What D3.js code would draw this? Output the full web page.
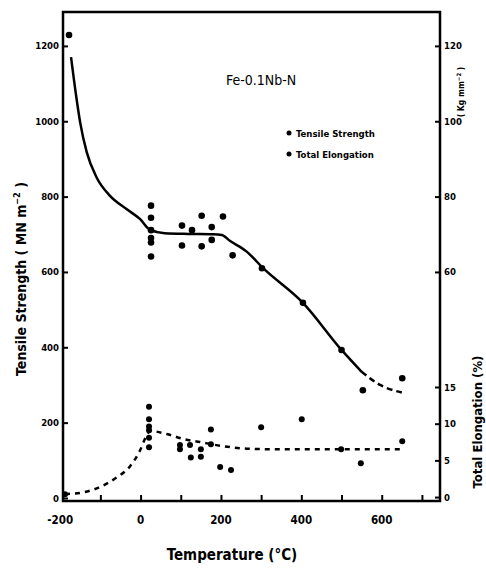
<!DOCTYPE html>
<html><head><meta charset="utf-8">
<script src="https://cdn.jsdelivr.net/npm/d3@7"></script>
<style>body{margin:0;background:#fff} svg{display:block}</style>
</head><body><svg id="c" width="486" height="568"></svg>
<script>
// ---- data ----
const tsTemp = [-178, 26, 26, 26, 26, 26, 26, 103, 103, 128, 152, 152, 177, 177, 205, 229, 302, 404, 500, 553, 651];
const tsVal  = [1229, 776, 744, 711, 690, 678, 641, 723, 670, 711, 749, 668, 719, 685, 747, 644, 610, 518, 393, 286, 318];
const elTemp = [-188, 21, 21, 21, 21, 21, 21, 98, 98, 123, 125, 150, 150, 175, 175, 198, 225, 300, 401, 499, 548, 651];
const elVal  = [0.4, 12.3, 10.6, 9.6, 9.1, 8.1, 6.8, 7.1, 6.5, 7.1, 5.4, 6.5, 5.5, 9.2, 7.2, 4.1, 3.7, 9.5, 10.6, 6.5, 4.6, 7.6];
const tsFitTemp = [-173, -160, -150, -134, -109, -76, -35, -1, 23, 60, 120, 180, 202, 223, 264, 305, 404, 500, 550];
const tsFitVal  = [1170, 1065, 995, 918, 850, 802, 767, 740, 712, 703, 701, 700, 698, 682, 654, 610, 518, 393, 335];
const tsDashTemp = [550, 596, 650];
const tsDashVal  = [335, 300, 280];
const elFitTemp = [-188, -142, -100, -59, -26, -1, 16, 24, 65, 107, 148, 198, 264, 350, 450, 550, 651];
const elFitVal  = [0.4, 0.65, 1.4, 2.7, 4.2, 6.4, 8.5, 9.0, 8.6, 7.9, 7.5, 7.0, 6.6, 6.5, 6.5, 6.5, 6.5];
const xTicks = [-100, 0, 100, 200, 300, 400, 500, 600, 700];
const xLabels = [-200, 0, 200, 400, 600];
const yTicks = [0, 200, 400, 600, 800, 1000, 1200];
const kgTicks = [60, 80, 100, 120];
const elTicks = [0, 5, 10, 15];

// ---- scales ----
const L = 63, R = 440, T = 12, B = 501;
const x = d3.scaleLinear().domain([-193, 745]).range([L, R]);
const y = d3.scaleLinear().domain([-8, 1290]).range([B, T]);
const yK = d3.scaleLinear().domain([-0.8, 129]).range([B, T]);
const yE = d3.scaleLinear().domain([-0.4, 15]).range([500, 387]);

const svg = d3.select("#c");
const font = "'DejaVu Sans Condensed','DejaVu Sans',sans-serif";

// frame
svg.append("rect").attr("x", L).attr("y", T).attr("width", R - L).attr("height", B - T)
  .attr("fill", "none").attr("stroke", "#000").attr("stroke-width", 2.5);

// x axis
const xa = svg.append("g").attr("transform", `translate(0,${B})`)
  .call(d3.axisBottom(x).tickValues(xTicks).tickSizeInner(-6).tickSizeOuter(0).tickFormat(""));
xa.select(".domain").remove();
xa.selectAll("line").attr("stroke-width", 2);
svg.append("g").selectAll("text").data(xLabels).join("text")
  .attr("x", d => x(d)).attr("y", 524).attr("text-anchor", "middle")
  .attr("font-family", font).attr("font-weight", "bold").attr("font-size", 11.5)
  .text(d => d < 0 ? "-" + Math.abs(d) : d);

// left axis
const ya = svg.append("g").attr("transform", `translate(${L},0)`)
  .call(d3.axisLeft(y).tickValues(yTicks).tickFormat(d3.format("d")).tickSizeInner(-5).tickSizeOuter(0).tickPadding(4));
ya.select(".domain").remove();
ya.selectAll("line").attr("stroke-width", 2);
ya.selectAll("text").attr("font-family", font).attr("font-weight", "bold").attr("font-size", 9.5);

// right axes
const ka = svg.append("g").attr("transform", `translate(${R},0)`)
  .call(d3.axisRight(yK).tickValues(kgTicks).tickFormat(d3.format("d")).tickSizeInner(-5).tickSizeOuter(0).tickPadding(4));
ka.select(".domain").remove();
ka.selectAll("line").attr("stroke-width", 2);
ka.selectAll("text").attr("font-family", font).attr("font-weight", "bold").attr("font-size", 9.5);
const ea = svg.append("g").attr("transform", `translate(${R},0)`)
  .call(d3.axisRight(yE).tickValues(elTicks).tickFormat(d3.format("d")).tickSizeInner(-5).tickSizeOuter(0).tickPadding(4));
ea.select(".domain").remove();
ea.selectAll("line").attr("stroke-width", 2);
ea.selectAll("text").attr("font-family", font).attr("font-weight", "bold").attr("font-size", 9.5);

// fit curves
const lineTS = d3.line().x(d => x(d[0])).y(d => y(d[1])).curve(d3.curveMonotoneX);
const lineEL = d3.line().x(d => x(d[0])).y(d => yE(d[1])).curve(d3.curveMonotoneX);
svg.append("path").datum(d3.zip(tsFitTemp, tsFitVal)).attr("d", lineTS)
  .attr("fill", "none").attr("stroke", "#000").attr("stroke-width", 2.5);
svg.append("path").datum(d3.zip(tsDashTemp, tsDashVal)).attr("d", lineTS)
  .attr("fill", "none").attr("stroke", "#000").attr("stroke-width", 2.5).attr("stroke-dasharray", "6,4");
svg.append("path").datum(d3.zip(elFitTemp, elFitVal)).attr("d", lineEL)
  .attr("fill", "none").attr("stroke", "#000").attr("stroke-width", 2.5).attr("stroke-dasharray", "5,5");

// points
svg.append("g").selectAll("circle").data(d3.zip(tsTemp, tsVal)).join("circle")
  .attr("cx", d => x(d[0])).attr("cy", d => y(d[1])).attr("r", 3.3).attr("fill", "#000");
svg.append("g").selectAll("circle").data(d3.zip(elTemp, elVal)).join("circle")
  .attr("cx", d => x(d[0])).attr("cy", d => yE(d[1])).attr("r", 3).attr("fill", "#000");

// title
svg.append("text").attr("x", 261).attr("y", 85).attr("text-anchor", "middle")
  .attr("font-family", font).attr("font-size", 14).text("Fe-0.1Nb-N");

// legend
const legend = [["Tensile Strength", 133], ["Total Elongation", 154]];
legend.forEach(([t, ly]) => {
  svg.append("circle").attr("cx", 289).attr("cy", ly).attr("r", 2.5).attr("fill", "#000");
  svg.append("text").attr("x", 296).attr("y", ly + 3.5).attr("font-family", font)
    .attr("font-weight", "bold").attr("font-size", 9.5).text(t);
});

// axis titles
svg.append("text").attr("x", 232).attr("y", 560).attr("text-anchor", "middle")
  .attr("font-family", font).attr("font-weight", "bold").attr("font-size", 15).text("Temperature (°C)");
const lt = svg.append("text").attr("transform", "translate(26,279) rotate(-90)").attr("text-anchor", "middle")
  .attr("font-family", font).attr("font-weight", "bold").attr("font-size", 14);
lt.append("tspan").text("Tensile Strength ( MN m");
lt.append("tspan").attr("font-size", 9).attr("dy", -6).text("−2");
lt.append("tspan").attr("dy", 6).text(" )");
const rt = svg.append("text").attr("transform", "translate(464,92) rotate(-90)").attr("text-anchor", "middle")
  .attr("font-family", font).attr("font-weight", "bold").attr("font-size", 8.5);
rt.append("tspan").text("( Kg mm");
rt.append("tspan").attr("font-size", 6).attr("dy", -3).text("−2");
rt.append("tspan").attr("dy", 3).text(" )");
svg.append("text").attr("transform", "translate(482,422) rotate(-90)").attr("text-anchor", "middle")
  .attr("font-family", font).attr("font-weight", "bold").attr("font-size", 13).text("Total Elongation (%)");
</script></body></html>
